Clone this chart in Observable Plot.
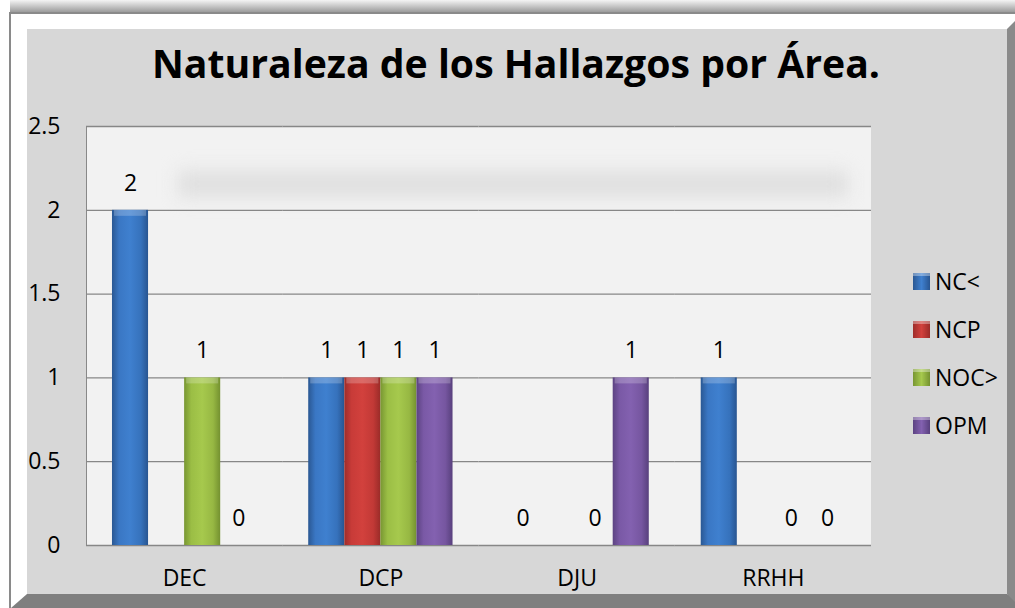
<!DOCTYPE html>
<html><head><meta charset="utf-8">
<script src="https://cdn.jsdelivr.net/npm/d3@7"></script>
<script src="https://cdn.jsdelivr.net/npm/@observablehq/plot@0.6"></script>
<style>
body{margin:0;background:#fff;}
#wrap{position:relative;width:1015px;height:608px;overflow:hidden;font-family:"Open Sans",Lato,sans-serif;}
.abs{position:absolute;}
.leg{position:absolute;left:913px;height:28px;display:flex;align-items:center;font-size:23px;color:#000;}
.sw{width:17px;height:17px;margin-right:5px;box-sizing:border-box;}
</style></head><body>
<div id="wrap">
  <div class="abs" style="left:10px;top:0;width:1005px;height:12px;background:linear-gradient(#f4f4f4,#9c9c9c)"></div>
  <div class="abs" style="left:9px;top:12px;width:1006px;height:2px;background:#8a8a8a"></div>
  <div class="abs" style="left:9px;top:12px;width:2px;height:596px;background:#8a8a8a"></div>
  <div class="abs" style="left:27px;top:29px;width:980px;height:565px;background:#d7d7d7"></div>
  <svg class="abs" style="left:0;top:0" width="1015" height="608">
    <polygon points="1007,29 1015,21 1015,608 1007,594" fill="#8a8a8a"/>
    <polygon points="27,594 1007,594 1015,602 1015,608 11,608" fill="#7f7f7f"/>
  </svg>
  <div class="abs" style="left:86px;top:126px;width:785px;height:419px;background:#f2f2f2;border-left:1px solid #888;box-sizing:border-box"></div>
  <div class="abs" style="left:178px;top:171px;width:670px;height:26px;background:#dfdfdf;filter:blur(9px)"></div>
  <div id="chart" class="abs" style="left:0;top:0"></div>
  <svg class="abs" style="left:0;top:0" width="1015" height="110">
    <text id="title" x="152" y="78" textLength="728" lengthAdjust="spacingAndGlyphs" font-family="'Open Sans', Lato, sans-serif" font-weight="700" font-size="39" fill="#000"></text>
  </svg>
  <div id="legend"></div>
</div>
<script>
const titleText = "Naturaleza de los Hallazgos por Área.";
const areas = ["DEC", "DCP", "DJU", "RRHH"];
const series = ["NC<", "NCP", "NOC>", "OPM"];
const valuesNC = [2, 1, 0, 1];
const valuesNCP = [null, 1, null, null];
const valuesNOC = [1, 1, 0, 0];
const valuesOPM = [0, 1, 1, 0];
const yTicks = [0, 0.5, 1, 1.5, 2, 2.5];
const yTickLabels = ["0", "0.5", "1", "1.5", "2", "2.5"];

const seriesValues = [valuesNC, valuesNCP, valuesNOC, valuesOPM];
const gradIds = ["gBlue", "gRed", "gGreen", "gPurple"];
const gradStops = [
  ["#2a5893", "#3a77c4", "#3f80cf", "#3672bc", "#285591"],
  ["#9e2d2a", "#c83b38", "#d2413d", "#c23936", "#9a2b28"],
  ["#789632", "#9bbe45", "#a6c94d", "#97b843", "#749130"],
  ["#5c4382", "#7a59a6", "#8361b0", "#7656a0", "#58407d"]
];

document.getElementById("title").textContent = titleText;

const rows = [];
areas.forEach((a, i) => series.forEach((s, j) => rows.push({area: a, series: s, value: seriesValues[j][i]})));
const present = rows.filter(d => d.value != null);

const chart = Plot.plot({
  width: 1015,
  height: 608,
  marginLeft: 86,
  marginRight: 144,
  marginTop: 126,
  marginBottom: 63,
  style: {background: "transparent", fontFamily: "'Open Sans', Lato, sans-serif", fontSize: "23px", color: "#000", overflow: "visible"},
  fx: {domain: areas, paddingInner: 0, paddingOuter: 0, label: null, tickSize: 0, tickPadding: 24, round: false},
  x: {domain: series, paddingInner: 0, paddingOuter: 0.72, axis: null, round: false},
  y: {domain: [0, 2.5], ticks: yTicks, tickFormat: d => yTickLabels[yTicks.indexOf(d)], tickSize: 0, tickPadding: 26, label: null},
  color: {domain: series, range: gradIds.map(id => `url(#${id})`)},
  marks: [
    Plot.gridY(yTicks, {stroke: "#878787", strokeOpacity: 1, strokeWidth: 1.3}),
    Plot.barY(present, {fx: "area", x: "series", y: "value", fill: "series"}),
    Plot.barY(present.filter(d => d.value > 0), {fx: "area", x: "series", y1: "value", y2: "value", insetBottom: -6, insetLeft: 2, insetRight: 2, fill: "#fff", fillOpacity: 0.22}),
    Plot.text(present, {fx: "area", x: "series", y: "value", text: d => String(d.value), dy: -27, fill: "#000"})
  ]
});

const defs = d3.select(chart).insert("defs", ":first-child");
gradIds.forEach((id, k) => {
  const g = defs.append("linearGradient").attr("id", id).attr("x1", 0).attr("x2", 1).attr("y1", 0).attr("y2", 0);
  [0, 0.2, 0.5, 0.8, 1].forEach((o, m) => g.append("stop").attr("offset", o).attr("stop-color", gradStops[k][m]));
});
document.getElementById("chart").appendChild(chart);

const legend = document.getElementById("legend");
series.forEach((s, k) => {
  const el = document.createElement("div");
  el.className = "leg";
  el.style.top = (281 + 48 * k - 14) + "px";
  const sw = document.createElement("div");
  sw.className = "sw";
  const c = gradStops[k];
  sw.style.background = `linear-gradient(to right, ${c[0]}, ${c[2]} 50%, ${c[4]})`;
  sw.style.borderTop = "3px solid rgba(255,255,255,0.35)";
  const t = document.createElement("span");
  t.textContent = s;
  el.appendChild(sw);
  el.appendChild(t);
  legend.appendChild(el);
});
</script>
</body></html>
